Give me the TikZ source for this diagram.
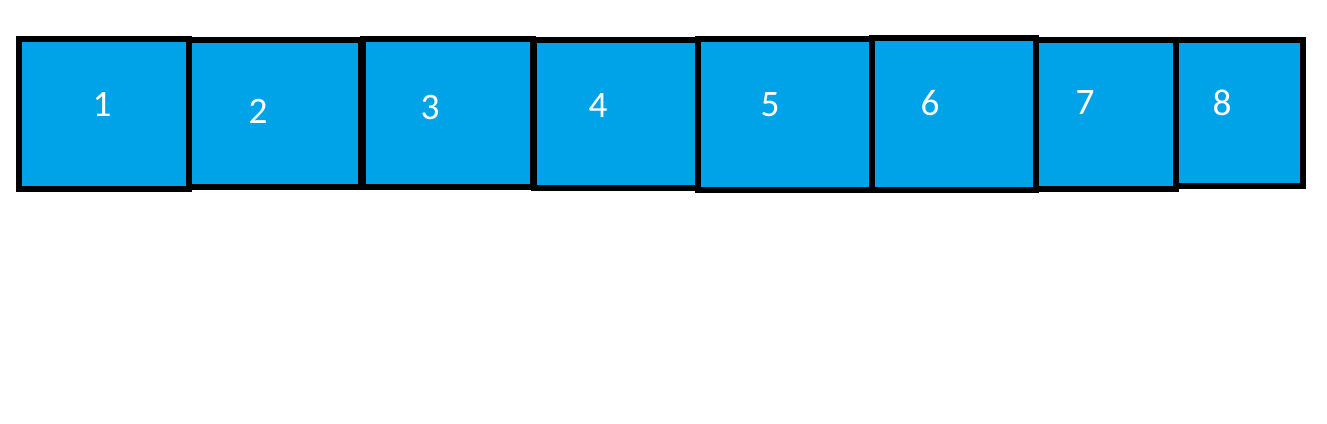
\documentclass[tikz,border=0pt]{standalone}
\usepackage{fontspec}
\setmainfont{Carlito}
\definecolor{cellblue}{HTML}{00A2E8}
\def\px{0.75pt}
\tikzset{
  cell/.style={draw=black, fill=cellblue, line width=4.5pt, inner sep=0pt, outer sep=0pt, rectangle},
  num/.style={text=white, font=\fontsize{28}{30}\selectfont, inner sep=0pt}
}
\begin{document}
\begin{tikzpicture}[x=0.75pt,y=-0.75pt]
\useasboundingbox[fill=white] (0,0) rectangle (1327,424);
% boxes: center x, center y, width, height (px, centerlines of borders)
\node[cell, minimum width=170*\px, minimum height=150*\px] (b1) at (104,114) {};
\node[cell, minimum width=172*\px, minimum height=147*\px] (b2) at (275,113.5) {};
\node[cell, minimum width=170*\px, minimum height=148*\px] (b3) at (448,113) {};
\node[cell, minimum width=164*\px, minimum height=148*\px] (b4) at (616,114) {};
\node[cell, minimum width=174*\px, minimum height=151*\px] (b5) at (785,114.5) {};
\node[cell, minimum width=164*\px, minimum height=152*\px] (b6) at (954,114) {};
\node[cell, minimum width=140*\px, minimum height=149*\px] (b7) at (1106,114.5) {};
\node[cell, minimum width=127*\px, minimum height=146*\px] (b8) at (1239.5,113) {};
% labels
\node[num] (n1) at (102,104) {1};
\node[num] (n2) at (258,111) {2};
\node[num] (n3) at (430,108) {3};
\node[num] (n4) at (598,106) {4};
\node[num] (n5) at (770,105) {5};
\node[num] (n6) at (930,103) {6};
\node[num] (n7) at (1085,103) {7};
\node[num] (n8) at (1222,103) {8};
\end{tikzpicture}
\end{document}
